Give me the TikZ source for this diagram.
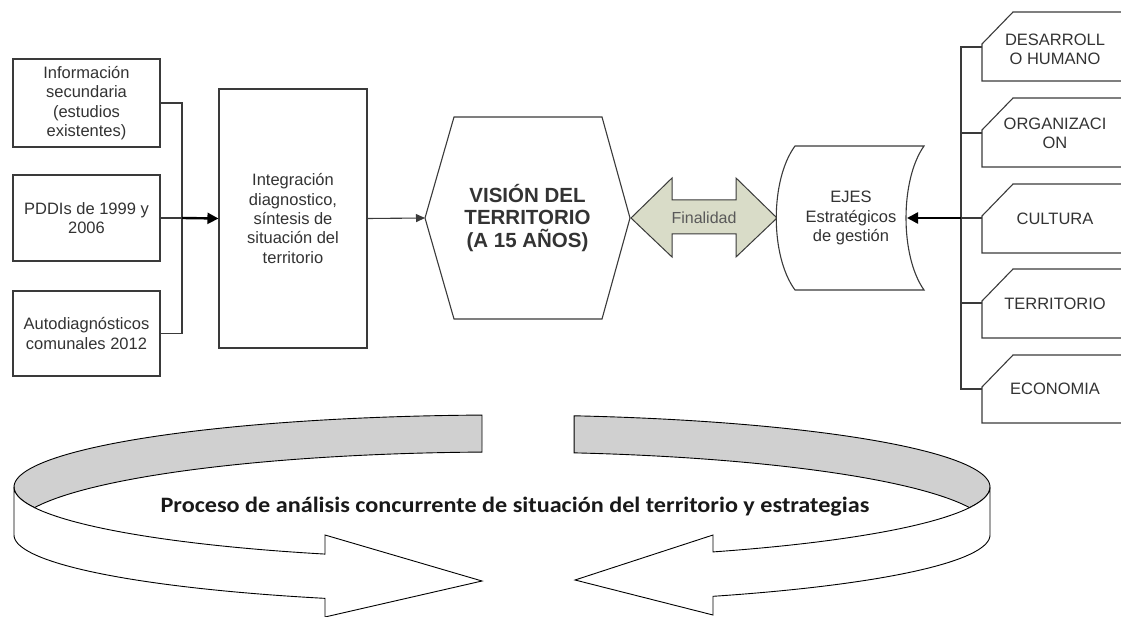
\documentclass[tikz,border=0pt]{standalone}
\usepackage{fontspec}
\setmainfont{Liberation Sans}
\newfontfamily\carlito{Carlito}
\usetikzlibrary{arrows.meta}
\definecolor{ln}{HTML}{3A3A3A}
\definecolor{tx}{HTML}{333333}
\definecolor{finfill}{HTML}{D9DCC8}
\definecolor{bandgray}{HTML}{D0D0D0}
\begin{document}
\begin{tikzpicture}[x=1pt,y=-1pt,
  box/.style={draw=ln,line width=1.1pt,fill=white,align=center,text=tx,
    font=\fontsize{16.5}{19.3}\selectfont,inner sep=0pt},
  txt/.style={align=center,text=tx,font=\fontsize{16.5}{19.3}\selectfont,inner sep=0pt},
  outline/.style={draw=ln,line width=1.1pt},
  conn/.style={draw=ln,line width=1.1pt},
  thickarrow/.style={draw=black,line width=2.4pt,-{Triangle[length=11pt,width=11pt]}},
  thinarrow/.style={draw=ln,line width=1.1pt,-{Triangle[length=9pt,width=8pt]}},
  band/.style={draw=black,line width=0.9pt,fill=bandgray},
  front/.style={draw=black,line width=0.9pt,fill=white},
]
\useasboundingbox (0,0) rectangle (1121,617);
\clip (0,0) rectangle (1121,617);

% ---- left input boxes
\node[box,minimum width=147pt,minimum height=88pt] (b1) at (86.5,103)
  {Información\\secundaria\\(estudios\\existentes)};
\node[box,minimum width=147pt,minimum height=86pt] (b2) at (86.5,218)
  {PDDIs de 1999 y\\2006};
\node[box,minimum width=147pt,minimum height=85pt] (b3) at (86.5,333.5)
  {Autodiagnósticos\\comunales 2012};
\node[box,minimum width=148pt,minimum height=259pt] (integ) at (293,218.5)
  {Integración\\diagnostico,\\síntesis de\\situación del\\territorio};

\coordinate (lmid) at (182,218);
\draw[conn] (b1.east) -| (lmid) |- (b3.east);
\draw[conn] (b2.east) -- (lmid);
\draw[thickarrow] (lmid) -- (integ.west);

% ---- vision hexagon
\coordinate (hexL) at (425,218);
\coordinate (hexR) at (630,218);
\draw[outline,fill=white] (454,117) -- (602,117) -- (hexR) -- (602,319) -- (454,319) -- (hexL) -- cycle;
\node[txt,font=\bfseries\fontsize{20.5}{22.6}\selectfont] (vision) at (527.5,218)
  {VISIÓN DEL\\TERRITORIO\\(A 15 AÑOS)};
\draw[thinarrow] (integ.east) -- (hexL);

% ---- finalidad double arrow
\coordinate (finL) at (631,218);
\coordinate (finR) at (777,218);
\draw[outline,fill=finfill,line width=1pt] (finL) -- (672,178) -- (672,200) -- (736,200) -- (736,178)
  -- (finR) -- (736,257) -- (736,234) -- (672,234) -- (672,257) -- cycle;
\node[txt,text=black!65,font=\fontsize{16}{19}\selectfont] (fin) at (704,218) {Finalidad};

% ---- EJES shape
\coordinate (ejesR) at (907,218);
\draw[outline,fill=white] (795,146) -- (924,146) .. controls (900,180) and (900,256) .. (924,290)
  -- (795,290) .. controls (770,256) and (770,180) .. (795,146) -- cycle;
\node[txt] (ejes) at (851,218) {EJES\\Estratégicos\\de gestión};

% ---- right cards
\foreach \t/\b in {12/81, 98/167, 184/253, 269/338, 355/423}{
  \draw[outline] (1130,\b) -- (982,\b) -- (982,\t+32) -- (1013,\t) -- (1130,\t);
}
\node[txt] (c1) at (1055,49) {DESARROLL\\O HUMANO};
\node[txt] (c2) at (1055,133) {ORGANIZACI\\ON};
\node[txt] (c3) at (1055,218.5) {CULTURA};
\node[txt] (c4) at (1055,303.5) {TERRITORIO};
\node[txt] (c5) at (1055,389) {ECONOMIA};

\coordinate (r1) at (982,47);
\coordinate (r2) at (982,133);
\coordinate (r3) at (982,218);
\coordinate (r4) at (982,303);
\coordinate (r5) at (982,389);
\coordinate (rmid) at (961,218);
\draw[conn] (r1) -| (rmid) |- (r5);
\draw[conn] (r2) -- (r2 -| rmid);
\draw[conn] (r3) -- (rmid);
\draw[conn] (r4) -- (r4 -| rmid);
\draw[thickarrow] (rmid) -- (ejesR);

% ---- bottom ribbon arrows
% U: upper ellipse, I: inner back arc, L: lower front ellipse
\draw[band] plot[domain=92.35:196.66,samples=60] ({502+488*cos(\x)},{487-72*sin(\x)})
  -- plot[domain=163.34:92.35,samples=60] ({502+488*cos(\x)},{530-78*sin(\x)}) -- cycle;
\draw[front] plot[domain=180:248.73,samples=50] ({502+488*cos(\x)},{487-72*sin(\x)})
  -- (325,535) -- (482,581) -- (325,617)
  -- plot[domain=248.73:180,samples=50] ({502+488*cos(\x)},{535-68*sin(\x)}) -- cycle;

\draw[band] plot[domain=81.5:-16.66,samples=60] ({502+488*cos(\x)},{487-72*sin(\x)})
  -- plot[domain=16.66:81.5,samples=60] ({502+488*cos(\x)},{530-78*sin(\x)}) -- cycle;
\draw[front] plot[domain=0:-64.38,samples=50] ({502+488*cos(\x)},{487-72*sin(\x)})
  -- (713,535) -- (575,580) -- (713,615)
  -- plot[domain=-64.38:0,samples=50] ({502+488*cos(\x)},{535-68*sin(\x)}) -- cycle;

\node[inner sep=0pt,anchor=base,xscale=1.1,text=black!90,font=\carlito\bfseries\fontsize{22}{26}\selectfont] (proc) at (515,512)
  {Proceso de análisis concurrente de situación del territorio y estrategias};
\end{tikzpicture}
\end{document}
